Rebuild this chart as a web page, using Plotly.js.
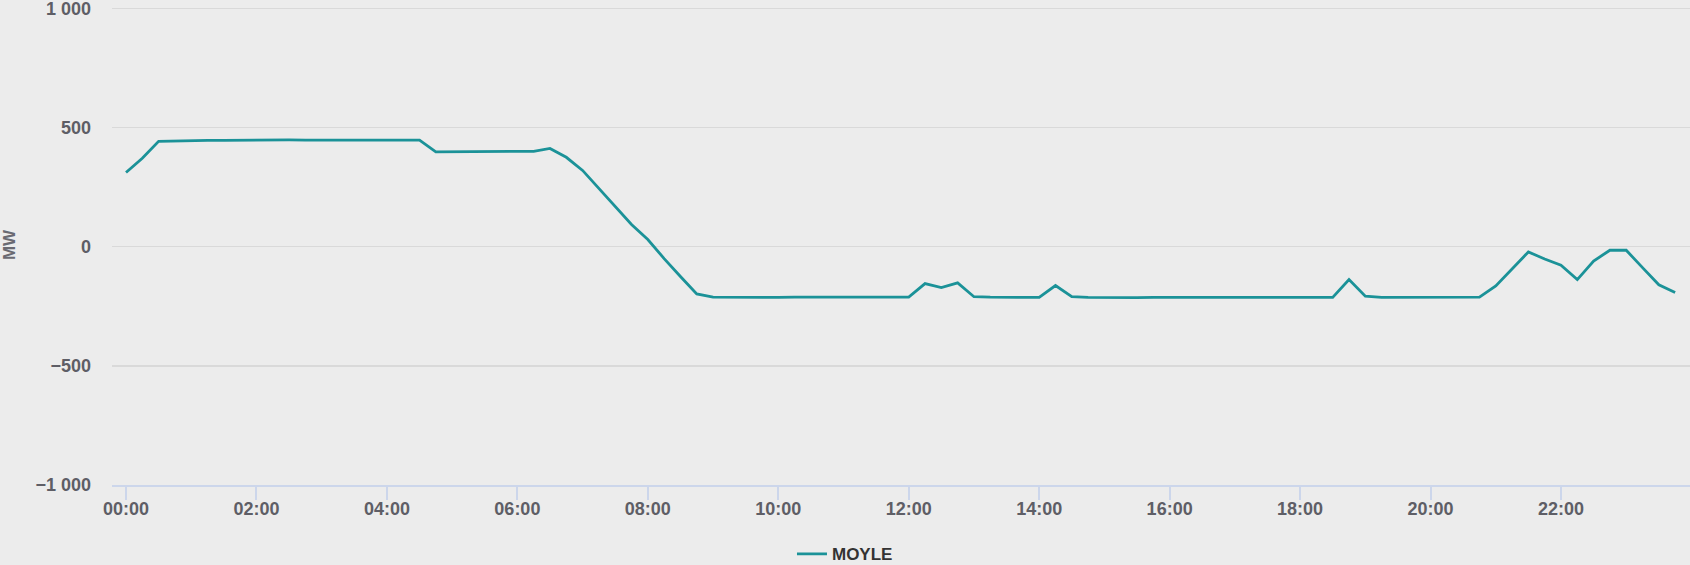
<!DOCTYPE html>
<html>
<head>
<meta charset="utf-8">
<script src="https://cdn.plot.ly/plotly-3.0.1.min.js"></script>
<style>
  html, body { margin: 0; padding: 0; background: #ececec; }
  #chart { width: 1690px; height: 565px; }
</style>
</head>
<body>
<div id="chart"></div>
<script>
const seriesName = "MOYLE";

const times = [
  "2024-01-01 00:00","2024-01-01 00:15","2024-01-01 00:30","2024-01-01 00:45",
  "2024-01-01 01:00","2024-01-01 01:15","2024-01-01 01:30","2024-01-01 01:45",
  "2024-01-01 02:00","2024-01-01 02:15","2024-01-01 02:30","2024-01-01 02:45",
  "2024-01-01 03:00","2024-01-01 03:15","2024-01-01 03:30","2024-01-01 03:45",
  "2024-01-01 04:00","2024-01-01 04:15","2024-01-01 04:30","2024-01-01 04:45",
  "2024-01-01 05:00","2024-01-01 05:15","2024-01-01 05:30","2024-01-01 05:45",
  "2024-01-01 06:00","2024-01-01 06:15","2024-01-01 06:30","2024-01-01 06:45",
  "2024-01-01 07:00","2024-01-01 07:15","2024-01-01 07:30","2024-01-01 07:45",
  "2024-01-01 08:00","2024-01-01 08:15","2024-01-01 08:30","2024-01-01 08:45",
  "2024-01-01 09:00","2024-01-01 09:15","2024-01-01 09:30","2024-01-01 09:45",
  "2024-01-01 10:00","2024-01-01 10:15","2024-01-01 10:30","2024-01-01 10:45",
  "2024-01-01 11:00","2024-01-01 11:15","2024-01-01 11:30","2024-01-01 11:45",
  "2024-01-01 12:00","2024-01-01 12:15","2024-01-01 12:30","2024-01-01 12:45",
  "2024-01-01 13:00","2024-01-01 13:15","2024-01-01 13:30","2024-01-01 13:45",
  "2024-01-01 14:00","2024-01-01 14:15","2024-01-01 14:30","2024-01-01 14:45",
  "2024-01-01 15:00","2024-01-01 15:15","2024-01-01 15:30","2024-01-01 15:45",
  "2024-01-01 16:00","2024-01-01 16:15","2024-01-01 16:30","2024-01-01 16:45",
  "2024-01-01 17:00","2024-01-01 17:15","2024-01-01 17:30","2024-01-01 17:45",
  "2024-01-01 18:00","2024-01-01 18:15","2024-01-01 18:30","2024-01-01 18:45",
  "2024-01-01 19:00","2024-01-01 19:15","2024-01-01 19:30","2024-01-01 19:45",
  "2024-01-01 20:00","2024-01-01 20:15","2024-01-01 20:30","2024-01-01 20:45",
  "2024-01-01 21:00","2024-01-01 21:15","2024-01-01 21:30","2024-01-01 21:45",
  "2024-01-01 22:00","2024-01-01 22:15","2024-01-01 22:30","2024-01-01 22:45",
  "2024-01-01 23:00","2024-01-01 23:15","2024-01-01 23:30","2024-01-01 23:45"
];

const moyleMW = [
  311, 371, 442, 444,
  445, 446, 446, 447,
  447, 447, 448, 447,
  447, 448, 447, 447,
  447, 447, 447, 398,
  398, 398, 398, 398,
  398, 400, 412, 375,
  320, 245, 168, 93,
  30, -50, -125, -198,
  -212, -213, -213, -213,
  -213, -212, -212, -212,
  -212, -212, -213, -213,
  -212, -155, -172, -152,
  -210, -212, -212, -213,
  -213, -163, -210, -213,
  -214, -214, -214, -213,
  -213, -213, -213, -213,
  -213, -214, -214, -214,
  -214, -214, -213, -138,
  -208, -213, -213, -213,
  -213, -213, -212, -212,
  -165, -92, -22, -52,
  -78, -138, -60, -15,
  -15, -88, -160, -192
];

const yTickVals = [-1000, -500, 0, 500, 1000];
const yTickText = ["\u22121 000", "\u2212500", "0", "500", "1 000"];
const xTickVals = [
  "2024-01-01 00:00","2024-01-01 02:00","2024-01-01 04:00","2024-01-01 06:00",
  "2024-01-01 08:00","2024-01-01 10:00","2024-01-01 12:00","2024-01-01 14:00",
  "2024-01-01 16:00","2024-01-01 18:00","2024-01-01 20:00","2024-01-01 22:00"
];
const xTickText = ["00:00","02:00","04:00","06:00","08:00","10:00","12:00","14:00","16:00","18:00","20:00","22:00"];

const trace = {
  type: "scatter",
  mode: "lines",
  name: seriesName,
  x: times,
  y: moyleMW,
  line: { color: "#1b9298", width: 2.8 },
  hoverinfo: "x+y"
};

const axisFont = { family: "Liberation Sans, Arial, sans-serif", size: 18, color: "#5e5e66", weight: "bold" };

const layout = {
  width: 1690,
  height: 565,
  paper_bgcolor: "#ececec",
  plot_bgcolor: "#ececec",
  margin: { l: 112, r: 0, t: 5, b: 80, autoexpand: false },
  showlegend: true,
  legend: {
    orientation: "h",
    x: 0.4645, xanchor: "center",
    yref: "container",
    y: 0.019, yanchor: "middle",
    font: { family: "Liberation Sans, Arial, sans-serif", size: 17, color: "#333333", weight: "bold" },
    bgcolor: "rgba(0,0,0,0)"
  },
  xaxis: {
    type: "date",
    range: ["2023-12-31 23:47:07", "2024-01-01 23:58:40"],
    tickvals: xTickVals,
    ticktext: xTickText,
    tickfont: axisFont,
    ticks: "outside",
    ticklen: 13,
    tickwidth: 2,
    tickcolor: "#ccd6eb",
    ticklabelstandoff: -7,
    showgrid: false,
    showline: true,
    linecolor: "#ccd6eb",
    linewidth: 2,
    zeroline: false,
    fixedrange: true
  },
  yaxis: {
    range: [-1000, 1014],
    tickvals: yTickVals,
    ticktext: yTickText,
    tickfont: axisFont,
    ticks: "",
    ticklabelstandoff: 20,
    ticklabeloverflow: "allow",
    showgrid: true,
    gridcolor: "#d9d9d9",
    gridwidth: 1.5,
    zeroline: false,
    showline: false,
    automargin: false,
    title: {
      text: "MW",
      font: { family: "Liberation Sans, Arial, sans-serif", size: 17, color: "#6a6a72", weight: "bold" },
      standoff: 28
    },
    fixedrange: true
  }
};

Plotly.newPlot("chart", [trace], layout, { displayModeBar: false, staticPlot: true });
</script>
</body>
</html>
